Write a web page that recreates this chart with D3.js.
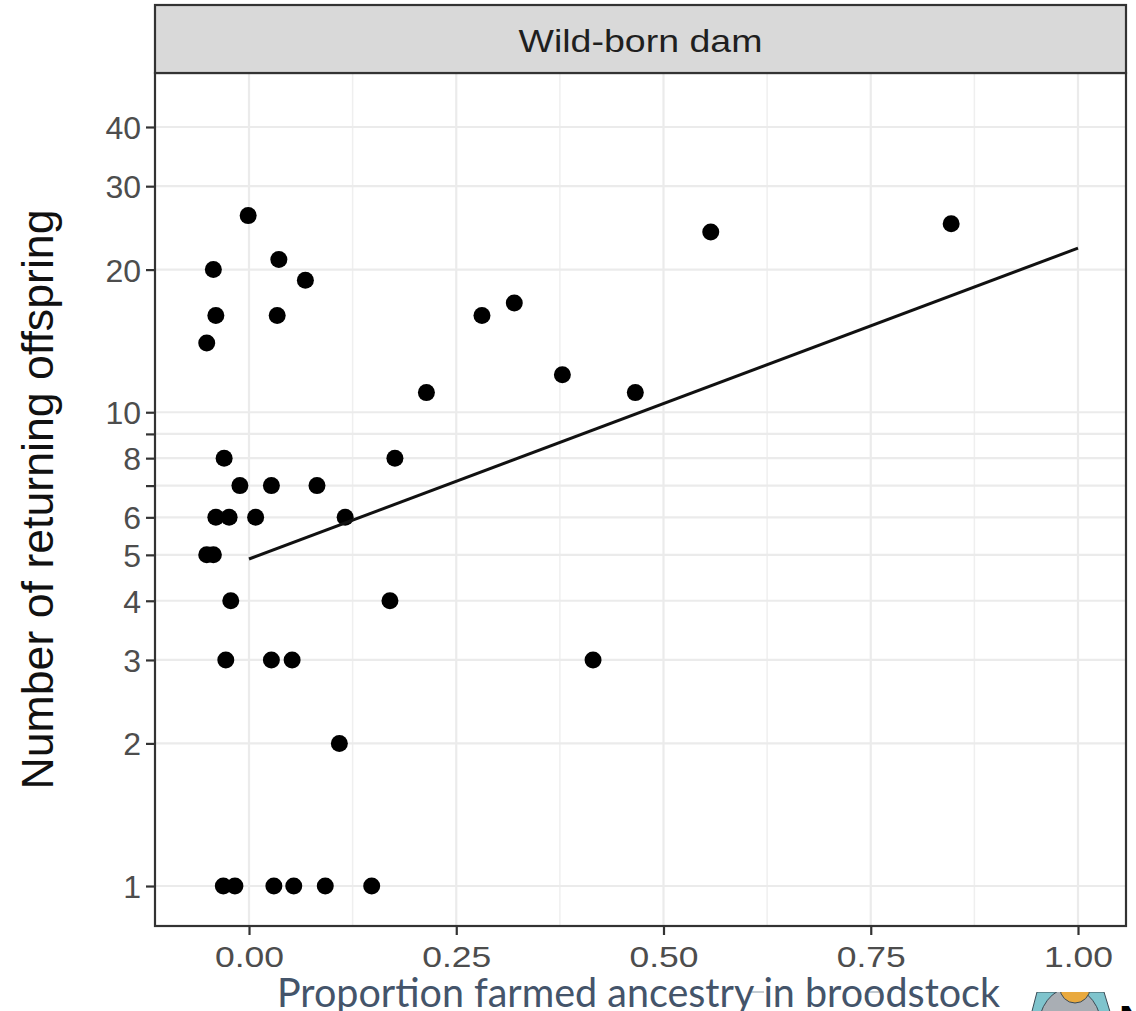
<!DOCTYPE html>
<html>
<head>
<meta charset="utf-8">
<script src="https://cdn.jsdelivr.net/npm/d3@7"></script>
<style>
  html, body { margin: 0; padding: 0; background: #ffffff; }
  svg { display: block; }
</style>
</head>
<body>
<svg id="chart" width="1136" height="1011"></svg>
<script>
// ---- data ----
const facetLabel = "Wild-born dam";
const yAxisTitle = "Number of returning offspring";
const xAxisTitle = "Proportion farmed ancestry in broodstock";

const farmedProportion = [
  -0.001, -0.043, 0.036, 0.068, -0.040, 0.034, -0.051,
  0.214, 0.281, 0.320, 0.378, 0.466, 0.557, 0.847,
  -0.030, 0.176,
  -0.011, 0.027, 0.082,
  -0.040, -0.024, 0.008, 0.116,
  -0.051, -0.043,
  -0.022, 0.170,
  -0.028, 0.027, 0.052, 0.415,
  0.109,
  -0.031, -0.017, 0.030, 0.054, 0.092, 0.148
];
const returningOffspring = [
  26, 20, 21, 19, 16, 16, 14,
  11, 16, 17, 12, 11, 24, 25,
  8, 8,
  7, 7, 7,
  6, 6, 6, 6,
  5, 5,
  4, 4,
  3, 3, 3, 3,
  2,
  1, 1, 1, 1, 1, 1
];
const fitX = [0, 1];
const fitY = [4.9, 22.2];

const xTicks = [0, 0.25, 0.5, 0.75, 1.0];
const xMinorTicks = [0.125, 0.375, 0.625, 0.875];
const yTicks = [1, 2, 3, 4, 5, 6, 7, 8, 9, 10, 20, 30, 40];
const yLabeled = [1, 2, 3, 4, 5, 6, 8, 10, 20, 30, 40];

// ---- layout ----
const panel = { left: 155, right: 1126, top: 73, bottom: 926 };
const strip = { top: 5, bottom: 73 };

const svg = d3.select("#chart");

const x = d3.scaleLinear().domain([-0.1134, 1.0579]).range([panel.left, panel.right]);
const y = d3.scaleLog().domain([0.8234, 52]).range([panel.bottom, panel.top]);

// panel background
svg.append("rect")
  .attr("x", panel.left).attr("y", panel.top)
  .attr("width", panel.right - panel.left).attr("height", panel.bottom - panel.top)
  .attr("fill", "#ffffff");

// grid
const grid = svg.append("g");
grid.selectAll("line.xminor").data(xMinorTicks).join("line")
  .attr("x1", d => x(d)).attr("x2", d => x(d))
  .attr("y1", panel.top).attr("y2", panel.bottom)
  .attr("stroke", "#efefef").attr("stroke-width", 1.5);
grid.selectAll("line.xmajor").data(xTicks).join("line")
  .attr("x1", d => x(d)).attr("x2", d => x(d))
  .attr("y1", panel.top).attr("y2", panel.bottom)
  .attr("stroke", "#ebebeb").attr("stroke-width", 2.2);
grid.selectAll("line.ymajor").data(yTicks).join("line")
  .attr("x1", panel.left).attr("x2", panel.right)
  .attr("y1", d => y(d)).attr("y2", d => y(d))
  .attr("stroke", "#ebebeb").attr("stroke-width", 2.2);

// points
const pts = farmedProportion.map((v, i) => ({ x: v, y: returningOffspring[i] }));
svg.append("g").selectAll("circle").data(pts).join("circle")
  .attr("cx", d => x(d.x)).attr("cy", d => y(d.y))
  .attr("r", 8.5).attr("fill", "#000000");

// fitted line
const fit = fitX.map((v, i) => [v, fitY[i]]);
svg.append("path")
  .datum(fit)
  .attr("d", d3.line().x(d => x(d[0])).y(d => y(d[1])))
  .attr("fill", "none").attr("stroke", "#111111").attr("stroke-width", 3);

// panel border
svg.append("rect")
  .attr("x", panel.left).attr("y", panel.top)
  .attr("width", panel.right - panel.left).attr("height", panel.bottom - panel.top)
  .attr("fill", "none").attr("stroke", "#333333").attr("stroke-width", 2.2);

// strip
svg.append("rect")
  .attr("x", panel.left).attr("y", strip.top)
  .attr("width", panel.right - panel.left).attr("height", strip.bottom - strip.top)
  .attr("fill", "#d9d9d9").attr("stroke", "#333333").attr("stroke-width", 2.2);
svg.append("text")
  .attr("x", (panel.left + panel.right) / 2).attr("y", 52)
  .attr("text-anchor", "middle")
  .attr("font-family", "'Liberation Sans', Arial, sans-serif")
  .attr("font-size", 32).attr("fill", "#1f1f1f")
  .attr("textLength", 244).attr("lengthAdjust", "spacingAndGlyphs")
  .text(facetLabel);

// y axis
const yAxis = d3.axisLeft(y).tickValues(yTicks)
  .tickFormat(d => yLabeled.includes(d) ? String(d) : "")
  .tickSize(9).tickPadding(5);
const gy = svg.append("g").attr("transform", `translate(${panel.left},0)`).call(yAxis);
gy.select(".domain").remove();
gy.selectAll(".tick line").attr("stroke", "#333333").attr("stroke-width", 2.2);
gy.selectAll(".tick text")
  .attr("font-family", "'Liberation Sans', Arial, sans-serif")
  .attr("font-size", 32).attr("fill", "#4d4d4d").attr("dy", "0.36em");

// x axis
const xAxis = d3.axisBottom(x).tickValues(xTicks)
  .tickFormat(d3.format(".2f")).tickSize(9).tickPadding(11);
const gx = svg.append("g").attr("transform", `translate(0,${panel.bottom})`).call(xAxis);
gx.select(".domain").remove();
gx.selectAll(".tick line").attr("stroke", "#333333").attr("stroke-width", 2.2);
gx.selectAll(".tick text")
  .attr("font-family", "'Liberation Sans', Arial, sans-serif")
  .attr("font-size", 30).attr("fill", "#4d4d4d")
  .attr("textLength", 69).attr("lengthAdjust", "spacingAndGlyphs");

// y axis title
svg.append("text")
  .attr("transform", `translate(53,${(panel.top + panel.bottom) / 2}) rotate(-90)`)
  .attr("text-anchor", "middle")
  .attr("font-family", "'Liberation Sans', Arial, sans-serif")
  .attr("font-size", 45).attr("fill", "#111111")
  .attr("textLength", 580).attr("lengthAdjust", "spacingAndGlyphs")
  .text(yAxisTitle);

// overlaid x title (slide text)
svg.append("line").attr("x1", 751).attr("x2", 764).attr("y1", 992).attr("y2", 992)
  .attr("stroke", "#8796a3").attr("stroke-width", 1);
svg.append("line").attr("x1", 866).attr("x2", 881).attr("y1", 992).attr("y2", 992)
  .attr("stroke", "#8796a3").attr("stroke-width", 1);
svg.append("text")
  .attr("x", 277).attr("y", 1007)
  .attr("font-family", "Lato, 'Open Sans', sans-serif")
  .attr("font-size", 40).attr("fill", "#44546a")
  .attr("textLength", 723).attr("lengthAdjust", "spacingAndGlyphs")
  .text(xAxisTitle);

// partial icon in bottom-right corner
const icon = svg.append("g");
icon.append("clipPath").attr("id", "iconclip")
  .append("rect").attr("x", 1026).attr("y", 992).attr("width", 90).attr("height", 19);
const ig = icon.append("g").attr("clip-path", "url(#iconclip)");
ig.append("path")
  .attr("d", "M1031,1015 L1037,992 L1104,992 L1111,1015 Z")
  .attr("fill", "#7fc4cd").attr("stroke", "#3a4a55").attr("stroke-width", 1);
ig.append("ellipse").attr("cx", 1070).attr("cy", 1030).attr("rx", 32).attr("ry", 42)
  .attr("fill", "#a9aeb4").attr("stroke", "#3a4a55").attr("stroke-width", 1);
ig.append("circle").attr("cx", 1075).attr("cy", 988).attr("r", 15)
  .attr("fill", "#e9a93e").attr("stroke", "#3a4a55").attr("stroke-width", 1);
svg.append("text").attr("x", 1119).attr("y", 1035)
  .attr("font-family", "'Liberation Sans', Arial, sans-serif")
  .attr("font-size", 42).attr("font-weight", "bold").attr("fill", "#000")
  .text("N");
</script>
</body>
</html>
